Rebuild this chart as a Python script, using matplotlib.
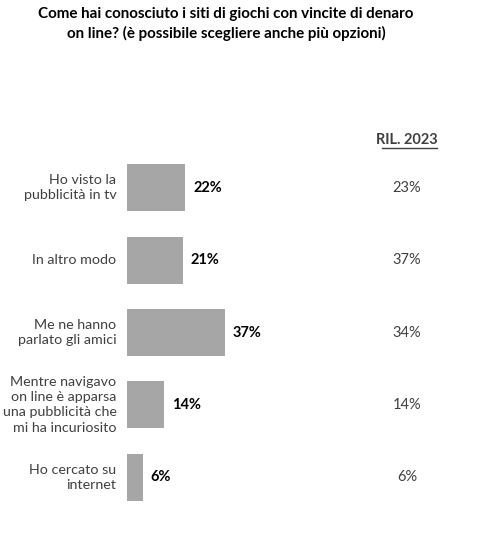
import matplotlib.pyplot as plt

categories = [
    "Ho visto la\npubblicità in tv",
    "In altro modo",
    "Me ne hanno\nparlato gli amici",
    "Mentre navigavo\non line è apparsa\nuna pubblicità che\nmi ha incuriosito",
    "Ho cercato su\ninternet",
]
values_2024 = [22, 21, 37, 14, 6]
values_2023 = [23, 37, 34, 14, 6]
title = ("Come hai conosciuto i siti di giochi con vincite di denaro\n"
         "on line? (è possibile scegliere anche più opzioni)")
header = "RIL. 2023"

plt.rcParams["font.family"] = ["Lato", "DejaVu Sans"]

W, H = 490, 544
fig = plt.figure(figsize=(W / 100, H / 100), dpi=100)
fig.patch.set_facecolor("white")

# axes: x=0 at px 127, scale ~2.65 px per percent
ax_left, ax_top, ax_bottom = 127, 130, 530
ax = fig.add_axes([ax_left / W, (H - ax_bottom) / H,
                   (W - ax_left) / W, (ax_bottom - ax_top) / H])
ax.set_xlim(0, (W - ax_left) / 2.65)
ax.set_ylim(4.73, -0.80)
ax.axis("off")

ypos = list(range(len(categories)))
ax.barh(ypos, values_2024, height=0.65, color="#a6a6a6")

for y, lab, v, v23 in zip(ypos, categories, values_2024, values_2023):
    ax.text(-4, y, lab, ha="right", va="center", fontsize=10.3,
            color="#404040", linespacing=1.32)
    ax.text(v + 3, y, f"{v}%", ha="left", va="center", fontsize=10.5,
            fontweight="bold", color="black")
    ax.text(105.7, y, f"{v23}%", ha="center", va="center", fontsize=10.5,
            color="#404040")

# header with underline
ax.text(105.7, -0.66, header, ha="center", va="center", fontsize=10.5,
        fontweight="bold", color="#404040")
ax.plot([96.2, 117.0], [-0.55, -0.55], color="#404040", lw=1.0,
        clip_on=False)

fig.text(226 / W, 1 - 24 / H, title, ha="center", va="center",
         fontsize=10.9, fontweight="bold", color="black", linespacing=1.4)

fig.savefig("out.png", dpi=100)
